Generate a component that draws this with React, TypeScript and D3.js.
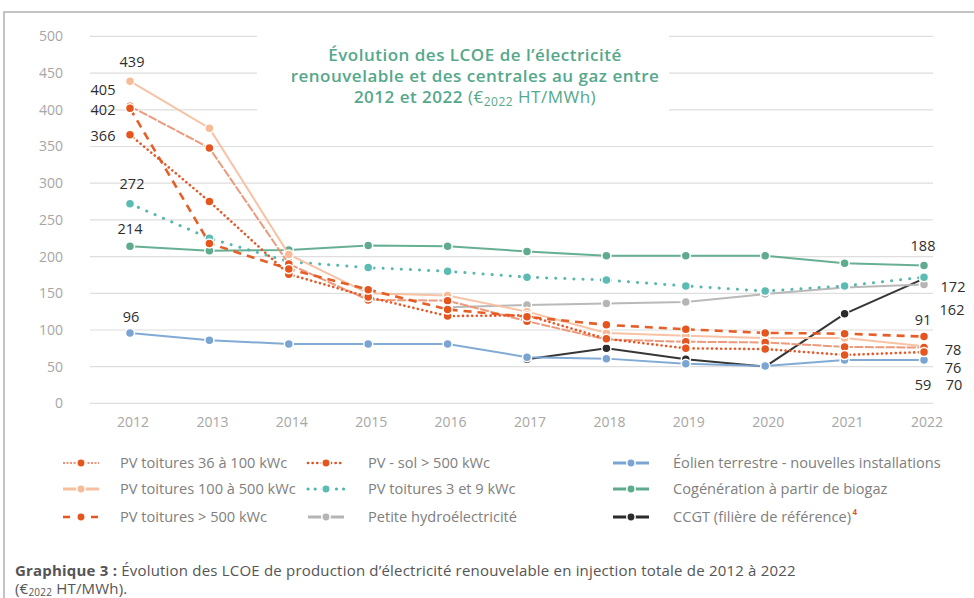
import React, { useEffect, useRef } from "react";
import * as d3 from "d3";

const years = [2012, 2013, 2014, 2015, 2016, 2017, 2018, 2019, 2020, 2021, 2022];

// LCOE values, €2022 HT/MWh (null = no data)
const pv36to100 = [405, 348, 190, 141, 140, 112, 87, 84, 83, 77, 76];
const pv100to500 = [439, 375, 203, 150, 147, 125, 96, 92, 89, 89, 78];
const pvOver500 = [402, 218, 183, 155, 128, 118, 107, 101, 96, 95, 91];
const pvSol = [366, 275, 176, 145, 119, 120, 88, 75, 74, 66, 70];
const pv3to9 = [272, 225, 193, 185, 180, 172, 168, 160, 153, 160, 172];
const hydro = [null, null, null, null, 131, 134, 136, 138, 149, 158, 162];
const eolien = [96, 86, 81, 81, 81, 63, 61, 54, 51, 59, 59];
const biogaz = [214, 208, 209, 215, 214, 207, 201, 201, 201, 191, 188];
const ccgt = [null, null, null, null, null, 60, 75, 60, 50, 122, 170];

const yTicks = [0, 50, 100, 150, 200, 250, 300, 350, 400, 450, 500];

type Series = {
  name: string;
  values: (number | null)[];
  color: string;
  marker: string;
  dash: string | null;
  legendDash: string | null;
  width: number;
  cap: string;
};

const series: Series[] = [
  { name: "CCGT (filière de référence)", values: ccgt, color: "#2b2b2b", marker: "#2b2b2b", dash: null, legendDash: null, width: 2, cap: "butt" },
  { name: "Éolien terrestre - nouvelles installations", values: eolien, color: "#7aa5d2", marker: "#7aa5d2", dash: null, legendDash: null, width: 2, cap: "butt" },
  { name: "Cogénération à partir de biogaz", values: biogaz, color: "#5fab8d", marker: "#5fab8d", dash: null, legendDash: null, width: 2, cap: "butt" },
  { name: "Petite hydroélectricité", values: hydro, color: "#b5b5b5", marker: "#b5b5b5", dash: null, legendDash: null, width: 2, cap: "butt" },
  { name: "PV toitures 3 et 9 kWc", values: pv3to9, color: "#4cb3aa", marker: "#5cbcb3", dash: "0.1,9", legendDash: "0.1,7", width: 3, cap: "round" },
  { name: "PV toitures 100 à 500 kWc", values: pv100to500, color: "#f8bf9f", marker: "#f8bb98", dash: null, legendDash: null, width: 2, cap: "butt" },
  { name: "PV toitures 36 à 100 kWc", values: pv36to100, color: "#ec9475", marker: "#e5561e", dash: "9,1.5", legendDash: "2,1.5", width: 2, cap: "butt" },
  { name: "PV - sol > 500 kWc", values: pvSol, color: "#e2501f", marker: "#e5561e", dash: "0.1,4.5", legendDash: "0.1,4.5", width: 2.6, cap: "round" },
  { name: "PV toitures > 500 kWc", values: pvOver500, color: "#e5561e", marker: "#e5561e", dash: "8,6", legendDash: "7,7", width: 2.6, cap: "butt" },
];

// legend order: column by column
const legendOrder = [
  "PV toitures 36 à 100 kWc",
  "PV toitures 100 à 500 kWc",
  "PV toitures > 500 kWc",
  "PV - sol > 500 kWc",
  "PV toitures 3 et 9 kWc",
  "Petite hydroélectricité",
  "Éolien terrestre - nouvelles installations",
  "Cogénération à partir de biogaz",
  "CCGT (filière de référence)",
];

// value labels: series, year, text, offset from point
const valueLabels = [
  { s: "PV toitures 100 à 500 kWc", year: 2012, text: "439", dx: 2, dy: -19 },
  { s: "PV toitures 36 à 100 kWc", year: 2012, text: "405", dx: -27, dy: -16 },
  { s: "PV toitures > 500 kWc", year: 2012, text: "402", dx: -27, dy: 2 },
  { s: "PV - sol > 500 kWc", year: 2012, text: "366", dx: -27, dy: 1 },
  { s: "PV toitures 3 et 9 kWc", year: 2012, text: "272", dx: 2, dy: -20 },
  { s: "Cogénération à partir de biogaz", year: 2012, text: "214", dx: 0, dy: -17 },
  { s: "Éolien terrestre - nouvelles installations", year: 2012, text: "96", dx: 1, dy: -16 },
  { s: "Cogénération à partir de biogaz", year: 2022, text: "188", dx: -1, dy: -19 },
  { s: "PV toitures 3 et 9 kWc", year: 2022, text: "172", dx: 29, dy: 10 },
  { s: "Petite hydroélectricité", year: 2022, text: "162", dx: 28, dy: 25 },
  { s: "PV toitures > 500 kWc", year: 2022, text: "91", dx: -1, dy: -17 },
  { s: "PV toitures 100 à 500 kWc", year: 2022, text: "78", dx: 29, dy: 4 },
  { s: "PV toitures 36 à 100 kWc", year: 2022, text: "76", dx: 29, dy: 20 },
  { s: "PV - sol > 500 kWc", year: 2022, text: "70", dx: 30, dy: 33 },
  { s: "Éolien terrestre - nouvelles installations", year: 2022, text: "59", dx: -1, dy: 25 },
];

const FONT = "'Open Sans', 'Noto Sans', sans-serif";

const App: React.FC = () => {
  const ref = useRef<SVGSVGElement | null>(null);

  useEffect(() => {
    if (!ref.current) return;
    const width = 974;
    const height = 598;

    const svg = d3.select(ref.current);
    svg.selectAll("*").remove();
    svg.attr("width", width).attr("height", height);

    svg.append("rect").attr("width", width).attr("height", height).attr("fill", "#fff");

    // frame (top and left edges visible)
    svg.append("path")
      .attr("d", `M4,${height} L4,12 L${width},12`)
      .attr("fill", "none")
      .attr("stroke", "#b0b0b0")
      .attr("stroke-width", 1.5);

    const x = d3.scaleLinear().domain([2012, 2022]).range([130, 924]);
    const y = d3.scaleLinear().domain([0, 500]).range([403.4, 36.4]);

    // gridlines
    svg.append("g")
      .selectAll("line")
      .data(yTicks)
      .enter()
      .append("line")
      .attr("x1", 90)
      .attr("x2", 933)
      .attr("y1", (d) => y(d))
      .attr("y2", (d) => y(d))
      .attr("stroke", "#dedede")
      .attr("stroke-width", 1.2);

    // y axis labels
    svg.append("g")
      .selectAll("text")
      .data(yTicks)
      .enter()
      .append("text")
      .attr("x", 63)
      .attr("y", (d) => y(d))
      .attr("dy", "0.35em")
      .attr("text-anchor", "end")
      .style("font-family", FONT)
      .style("font-size", "14px")
      .attr("fill", "#a6a6a6")
      .text((d) => d);

    // x axis labels
    svg.append("g")
      .selectAll("text")
      .data(years)
      .enter()
      .append("text")
      .attr("x", (d) => x(d) + 3)
      .attr("y", 422)
      .attr("dy", "0.35em")
      .attr("text-anchor", "middle")
      .style("font-family", FONT)
      .style("font-size", "14px")
      .attr("fill", "#a6a6a6")
      .text((d) => d);

    // title box
    svg.append("rect")
      .attr("x", 257)
      .attr("y", 30)
      .attr("width", 412)
      .attr("height", 86)
      .attr("fill", "#fff");

    const title = svg.append("g")
      .attr("fill", "#55a88b")
      .style("font-family", FONT)
      .style("font-size", "17px")
      .style("letter-spacing", "0.5px");
    const titleLines = ["Évolution des LCOE de l’électricité", "renouvelable et des centrales au gaz entre"];
    titleLines.forEach((t, i) => {
      title.append("text")
        .attr("x", 475)
        .attr("y", 61 + i * 21)
        .attr("text-anchor", "middle")
        .style("font-weight", 600)
        .text(t);
    });
    const t3 = title.append("text").attr("x", 475).attr("y", 103).attr("text-anchor", "middle");
    t3.append("tspan").style("font-weight", 600).text("2012 et 2022 ");
    t3.append("tspan").style("font-weight", 400).text("(€");
    t3.append("tspan").style("font-weight", 400).style("font-size", "12px").attr("dy", 3).text("2022");
    t3.append("tspan").style("font-weight", 400).attr("dy", -3).text(" HT/MWh)");

    // lines
    const plot = svg.append("g");
    series.forEach((s) => {
      const pts = years
        .map((yr, i) => ({ yr, v: s.values[i] }))
        .filter((p) => p.v !== null) as { yr: number; v: number }[];
      const line = d3.line<{ yr: number; v: number }>()
        .x((d) => x(d.yr))
        .y((d) => y(d.v));
      plot.append("path")
        .datum(pts)
        .attr("d", line)
        .attr("fill", "none")
        .attr("stroke", s.color)
        .attr("stroke-width", s.width)
        .attr("stroke-linecap", s.cap)
        .attr("stroke-dasharray", s.dash)
        .attr("opacity", 0.95);
      plot.append("g")
        .selectAll("circle")
        .data(pts)
        .enter()
        .append("circle")
        .attr("cx", (d) => x(d.yr))
        .attr("cy", (d) => y(d.v))
        .attr("r", 4.5)
        .attr("fill", s.marker)
        .attr("stroke", "#fff")
        .attr("stroke-width", 1.5);
    });

    // value labels
    svg.append("g")
      .selectAll("text")
      .data(valueLabels)
      .enter()
      .append("text")
      .attr("x", (d) => x(d.year) + d.dx)
      .attr("y", (d) => {
        const s = series.find((q) => q.name === d.s)!;
        return y(s.values[years.indexOf(d.year)] as number) + d.dy;
      })
      .attr("dy", "0.35em")
      .attr("text-anchor", "middle")
      .style("font-family", FONT)
      .style("font-size", "14.5px")
      .attr("fill", "#2e2e2e")
      .text((d) => d.text);

    // legend
    const colX = [63, 308, 613];
    const colTextX = [120, 368, 673];
    const rowY = [463, 489, 517];
    const legend = svg.append("g");
    legendOrder.forEach((name, i) => {
      const s = series.find((q) => q.name === name)!;
      const col = Math.floor(i / 3);
      const row = i % 3;
      const g = legend.append("g").attr("transform", `translate(${colX[col]}, ${rowY[row]})`);
      g.append("line")
        .attr("x1", 0)
        .attr("x2", 36)
        .attr("stroke", s.color)
        .attr("stroke-width", s.dash ? s.width : 3)
        .attr("stroke-linecap", s.cap)
        .attr("stroke-dasharray", s.legendDash);
      g.append("circle")
        .attr("cx", 18)
        .attr("r", 4.2)
        .attr("fill", s.marker)
        .attr("stroke", "#fff")
        .attr("stroke-width", 1.5);
      const label = g.append("text")
        .attr("x", colTextX[col] - colX[col])
        .attr("dy", "0.35em")
        .style("font-family", FONT)
        .style("font-size", "14.6px")
        .attr("fill", "#808080")
        .text(name);
      if (name.startsWith("CCGT")) {
        const w = (label.node() as SVGTextElement).getComputedTextLength();
        g.append("text")
          .attr("x", colTextX[col] - colX[col] + w + 1.5)
          .attr("dy", "-0.25em")
          .style("font-family", FONT)
          .style("font-size", "8px")
          .style("font-weight", 700)
          .attr("fill", "#e5561e")
          .text("4");
      }
    });

    // caption
    const cap = svg.append("g")
      .style("font-family", FONT)
      .style("font-size", "15px")
      .style("letter-spacing", "0.2px")
      .attr("fill", "#555");
    const c1 = cap.append("text").attr("x", 15).attr("y", 576);
    c1.append("tspan").style("font-weight", 700).text("Graphique 3 :");
    c1.append("tspan").text(" Évolution des LCOE de production d’électricité renouvelable en injection totale de 2012 à 2022");
    const c2 = cap.append("text").attr("x", 15).attr("y", 594);
    c2.append("tspan").text("(€");
    c2.append("tspan").style("font-size", "10px").attr("dy", 2).text("2022");
    c2.append("tspan").attr("dy", -2).text(" HT/MWh).");

    return () => {
      d3.select(ref.current).selectAll("*").remove();
    };
  }, []);

  return (
    <div style={{ position: "absolute", left: 0, top: 0, width: 974, height: 598, overflow: "hidden" }}>
      <svg ref={ref}></svg>
    </div>
  );
};

export default App;
